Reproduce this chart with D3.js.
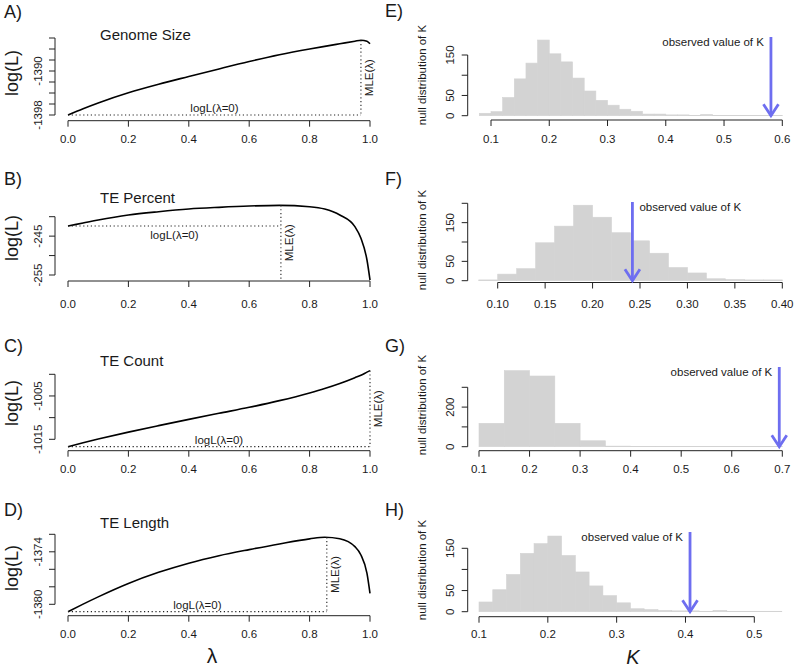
<!DOCTYPE html>
<html><head><meta charset="utf-8">
<script src="https://cdn.jsdelivr.net/npm/d3@7"></script>
<style>
html,body{margin:0;padding:0;background:#fff;}
svg{display:block;}
text{font-family:"Liberation Sans", Arial, Helvetica, sans-serif; fill:#1a1a1a;}
</style></head><body>
<svg id="chart" width="794" height="669"></svg>
<script>
// ---------------- DATA ----------------
const lambda = [0, 0.05, 0.1, 0.2, 0.3, 0.4, 0.5, 0.6, 0.7, 0.8, 0.85, 0.9, 0.95, 0.97, 0.99, 1.0];
const logL_genomeSize = [-1398.00, -1396.85, -1395.80, -1393.95, -1392.40, -1391.00, -1389.62, -1388.28, -1387.05, -1386.00, -1385.52, -1385.05, -1384.58, -1384.40, -1384.58, -1385.05];
const logL_tePercent  = [-242.39, -241.62, -240.85, -239.56, -238.71, -238.02, -237.59, -237.25, -237.08, -237.42, -238.02, -239.56, -242.57, -245.57, -251.14, -256.29];
const logL_teCount    = [-1016.70, -1015.80, -1014.95, -1013.35, -1011.85, -1010.40, -1009.00, -1007.62, -1006.08, -1004.30, -1003.28, -1002.12, -1000.78, -1000.20, -999.50, -999.15];
const logL_teLength   = [-1380.84, -1379.98, -1379.15, -1377.62, -1376.35, -1375.30, -1374.45, -1373.75, -1373.10, -1372.52, -1372.33, -1372.50, -1373.41, -1374.37, -1376.46, -1378.75];
const mleLambda = [0.97, 0.705, 1.0, 0.857];
const traitTitles = ["Genome Size", "TE Percent", "TE Count", "TE Length"];

const lambdaTicks = [0, 0.2, 0.4, 0.6, 0.8, 1.0];
const lambdaTickLabels = ["0.0", "0.2", "0.4", "0.6", "0.8", "1.0"];
const yTicksA = [-1398, -1396, -1394, -1392, -1390, -1388, -1386, -1384];
const yLabelsA = ["-1398", "", "", "", "-1390", "", "", ""];
const yTicksB = [-255, -250, -245, -240];
const yLabelsB = ["-255", "", "-245", ""];
const yTicksC = [-1015, -1010, -1005, -1000];
const yLabelsC = ["-1015", "", "-1005", ""];
const yTicksD = [-1380, -1378, -1376, -1374, -1372];
const yLabelsD = ["-1380", "", "", "-1374", ""];

// Null distributions of K (histogram counts)
const breaksE = [0.08,0.10,0.12,0.14,0.16,0.18,0.20,0.22,0.24,0.26,0.28,0.30,0.32,0.34,0.36,0.38,0.40,0.42,0.44,0.46,0.48,0.50,0.52,0.54,0.56,0.58,0.60];
const countsE = [6, 10, 45, 91, 130, 187, 153, 133, 93, 61, 38, 26, 16, 11, 4, 4, 2, 2, 1, 3, 1, 1, 1, 1, 1, 1];
const breaksF = [0.08,0.10,0.12,0.14,0.16,0.18,0.20,0.22,0.24,0.26,0.28,0.30,0.32,0.34,0.36,0.38,0.40];
const countsF = [2, 17, 31, 98, 141, 195, 164, 124, 103, 71, 34, 20, 5, 3, 2, 2];
const breaksG = [0.10,0.15,0.20,0.25,0.30,0.35,0.40,0.45,0.50,0.55,0.60,0.65,0.70];
const countsG = [118, 384, 357, 118, 30, 3, 1, 1, 1, 1, 1, 1];
const breaksH = [0.10,0.12,0.14,0.16,0.18,0.20,0.22,0.24,0.26,0.28,0.30,0.32,0.34,0.36,0.38,0.40,0.42,0.44,0.46,0.48,0.50,0.52,0.54];
const countsH = [23, 52, 88, 138, 161, 179, 133, 94, 61, 38, 21, 7, 5, 3, 2, 2, 1, 3, 1, 1, 1, 1];
const observedK = [0.5805, 0.242, 0.694, 0.4066];

const kTicksE = [0.1, 0.2, 0.3, 0.4, 0.5, 0.6];
const kLabelsE = ["0.1", "0.2", "0.3", "0.4", "0.5", "0.6"];
const kTicksF = [0.10, 0.15, 0.20, 0.25, 0.30, 0.35, 0.40];
const kLabelsF = ["0.10", "0.15", "0.20", "0.25", "0.30", "0.35", "0.40"];
const kTicksG = [0.1, 0.2, 0.3, 0.4, 0.5, 0.6, 0.7];
const kLabelsG = ["0.1", "0.2", "0.3", "0.4", "0.5", "0.6", "0.7"];
const kTicksH = [0.1, 0.2, 0.3, 0.4, 0.5];
const kLabelsH = ["0.1", "0.2", "0.3", "0.4", "0.5"];
const countTicks150 = [0, 50, 100, 150];
const countLabels150 = ["0", "50", "", "150"];
const countTicks200 = [0, 50, 100, 150, 200];
const countLabels200 = ["0", "50", "", "150", ""];
const countTicks300 = [0, 100, 200, 300];
const countLabels300 = ["0", "", "200", ""];

// ---------------- LAYOUT ----------------
const svg = d3.select("#chart");
const FS = 11.5;
const axisCol = "#222";
const arrowCol = "#6e6ef0";

const leftLayout = [
  {label:"A)", top:0,   values:logL_genomeSize, yTicks:yTicksA, yLabels:yLabelsA, yRange:[115, 38],    axisY:120.7, titleY:34, logLAbove:true},
  {label:"B)", top:165, values:logL_tePercent,  yTicks:yTicksB, yLabels:yLabelsB, yRange:[110, 51.7],  axisY:116,   titleY:32, logLAbove:false},
  {label:"C)", top:330, values:logL_teCount,    yTicks:yTicksC, yLabels:yLabelsC, yRange:[109.3, 44.3],axisY:120.7, titleY:30, logLAbove:true},
  {label:"D)", top:495, values:logL_teLength,   yTicks:yTicksD, yLabels:yLabelsD, yRange:[109.3, 39.3],axisY:120.7, titleY:27, logLAbove:true}
];
const xL = d3.scaleLinear().domain([0, 1]).range([68, 370]);
const yAxisXL = 55;

leftLayout.forEach((p, i) => {
  const g = svg.append("g").attr("transform", `translate(0,${p.top})`);
  const y = d3.scaleLinear().domain([p.yTicks[0], p.yTicks[p.yTicks.length-1]]).range(p.yRange);
  const pts = lambda.map((l, j) => [l, p.values[j]]);

  g.append("text").attr("x", 4).attr("y", [11.5, 13.5, 15.5, 14.5][i]).attr("dominant-baseline","central")
    .attr("font-size", 18).text(p.label);
  g.append("text").attr("x", 100).attr("y", p.titleY).attr("dominant-baseline","central")
    .attr("font-size", 15).text(traitTitles[i]);
  g.append("text").attr("transform", `translate(12,73) rotate(-90)`).attr("text-anchor","middle")
    .attr("dominant-baseline","central").attr("font-size", 18).text("log(L)");

  g.append("line").attr("x1", xL(lambdaTicks[0])).attr("x2", xL(lambdaTicks[lambdaTicks.length-1]))
    .attr("y1", p.axisY).attr("y2", p.axisY).attr("stroke", axisCol);
  lambdaTicks.forEach((t, k) => {
    g.append("line").attr("x1", xL(t)).attr("x2", xL(t)).attr("y1", p.axisY).attr("y2", p.axisY + 6).attr("stroke", axisCol);
    g.append("text").attr("x", xL(t)).attr("y", 139.3).attr("text-anchor","middle").attr("dominant-baseline","central")
      .attr("font-size", FS).text(lambdaTickLabels[k]);
  });
  g.append("line").attr("x1", yAxisXL).attr("x2", yAxisXL).attr("y1", y(p.yTicks[0])).attr("y2", y(p.yTicks[p.yTicks.length-1])).attr("stroke", axisCol);
  p.yTicks.forEach((t, k) => {
    g.append("line").attr("x1", yAxisXL - 6).attr("x2", yAxisXL).attr("y1", y(t)).attr("y2", y(t)).attr("stroke", axisCol);
    if (p.yLabels[k]) g.append("text").attr("transform", `translate(${yAxisXL - 17.5},${y(t)}) rotate(-90)`)
      .attr("text-anchor","middle").attr("dominant-baseline","central").attr("font-size", FS).text(p.yLabels[k]);
  });

  const line = d3.line().x(d => xL(d[0])).y(d => y(d[1])).curve(d3.curveMonotoneX);
  g.append("path").attr("d", line(pts)).attr("fill","none").attr("stroke","#000").attr("stroke-width",1.6);

  const maxV = d3.max(p.values), minV = d3.min(p.values), l0 = p.values[0];
  const mx = xL(mleLambda[i]);
  g.append("line").attr("x1", mx).attr("x2", mx).attr("y1", y(maxV)).attr("y2", y(minV))
    .attr("stroke","#222").attr("stroke-width",1.1).attr("stroke-dasharray","1.2 2.6");
  g.append("line").attr("x1", xL(0)).attr("x2", mx).attr("y1", y(l0)).attr("y2", y(l0))
    .attr("stroke","#222").attr("stroke-width",1.1).attr("stroke-dasharray","1.2 2.6");
  g.append("text").attr("x", (xL(0) + mx) / 2).attr("y", y(l0) + (p.logLAbove ? -7 : 9))
    .attr("text-anchor","middle").attr("dominant-baseline","central").attr("font-size", FS).text("logL(λ=0)");
  g.append("text").attr("transform", `translate(${mx + 8},${(y(maxV) + y(minV)) / 2}) rotate(-90)`)
    .attr("text-anchor","middle").attr("dominant-baseline","central").attr("font-size", FS).text("MLE(λ)");
});

svg.append("text").attr("x", 212).attr("y", 663).attr("text-anchor","middle")
  .attr("font-size", 21).text("λ");

const rightLayout = [
  {label:"E)", top:0,   breaks:breaksE, counts:countsE, kTicks:kTicksE, kLabels:kLabelsE, cTicks:countTicks150, cLabels:countLabels150, xRange:[491, 782.3],   yRange:[115.7, 55],   axisY:120,   textRight:true},
  {label:"F)", top:165, breaks:breaksF, counts:countsF, kTicks:kTicksF, kLabels:kLabelsF, cTicks:countTicks200, cLabels:countLabels200, xRange:[497.7, 782.3], yRange:[115.7, 38.3], axisY:117.5, textRight:false},
  {label:"G)", top:330, breaks:breaksG, counts:countsG, kTicks:kTicksG, kLabels:kLabelsG, cTicks:countTicks300, cLabels:countLabels300, xRange:[479, 782.3],   yRange:[116.7, 57.3], axisY:120.7, textRight:true},
  {label:"H)", top:495, breaks:breaksH, counts:countsH, kTicks:kTicksH, kLabels:kLabelsH, cTicks:countTicks150, cLabels:countLabels150, xRange:[479, 754.3],   yRange:[116.7, 53.3], axisY:121.7, textRight:true}
];
const yAxisXR = 467.7;

rightLayout.forEach((p, i) => {
  const g = svg.append("g").attr("transform", `translate(0,${p.top})`);
  const x = d3.scaleLinear().domain([p.kTicks[0], p.kTicks[p.kTicks.length-1]]).range(p.xRange);
  const y = d3.scaleLinear().domain([p.cTicks[0], p.cTicks[p.cTicks.length-1]]).range(p.yRange);

  g.append("text").attr("x", 385).attr("y", [10.5, 13.5, 15.5, 14.5][i]).attr("dominant-baseline","central")
    .attr("font-size", 18).text(p.label);
  g.append("text").attr("transform", `translate(421.7,75) rotate(-90)`).attr("text-anchor","middle")
    .attr("dominant-baseline","central").attr("font-size", FS).text("null distribution of K");

  g.selectAll("rect.bar").data(p.counts).join("rect").attr("class","bar")
    .attr("x", (d, j) => x(p.breaks[j]))
    .attr("width", (d, j) => x(p.breaks[j+1]) - x(p.breaks[j]))
    .attr("y", d => y(d)).attr("height", d => y(0) - y(d))
    .attr("fill", "#d3d3d3").attr("stroke", "#d3d3d3").attr("stroke-width", 0.6);

  g.append("line").attr("x1", x(p.kTicks[0])).attr("x2", x(p.kTicks[p.kTicks.length-1]))
    .attr("y1", p.axisY).attr("y2", p.axisY).attr("stroke", axisCol);
  p.kTicks.forEach((t, k) => {
    g.append("line").attr("x1", x(t)).attr("x2", x(t)).attr("y1", p.axisY).attr("y2", p.axisY + 6).attr("stroke", axisCol);
    g.append("text").attr("x", x(t)).attr("y", 139.3).attr("text-anchor","middle").attr("dominant-baseline","central")
      .attr("font-size", FS).text(p.kLabels[k]);
  });
  g.append("line").attr("x1", yAxisXR).attr("x2", yAxisXR).attr("y1", y(p.cTicks[0])).attr("y2", y(p.cTicks[p.cTicks.length-1])).attr("stroke", axisCol);
  p.cTicks.forEach((t, k) => {
    g.append("line").attr("x1", yAxisXR - 6).attr("x2", yAxisXR).attr("y1", y(t)).attr("y2", y(t)).attr("stroke", axisCol);
    if (p.cLabels[k]) g.append("text").attr("transform", `translate(${yAxisXR - 17.5},${y(t)}) rotate(-90)`)
      .attr("text-anchor","middle").attr("dominant-baseline","central").attr("font-size", FS).text(p.cLabels[k]);
  });

  const ax = x(observedK[i]), ay0 = 37, ay1 = y(0);
  g.append("line").attr("x1", ax).attr("x2", ax).attr("y1", ay0).attr("y2", ay1)
    .attr("stroke", arrowCol).attr("stroke-width", 2.8);
  g.append("path").attr("d", `M${ax-7.5},${ay1-11.5}L${ax},${ay1}L${ax+7.5},${ay1-11.5}`)
    .attr("fill","none").attr("stroke", arrowCol).attr("stroke-width", 2.8).attr("stroke-linejoin","miter");
  g.append("text").attr("x", p.textRight ? ax - 7 : ax + 7).attr("y", 41.7)
    .attr("text-anchor", p.textRight ? "end" : "start").attr("dominant-baseline","central")
    .attr("font-size", FS).text("observed value of K");
});

svg.append("text").attr("x", 633).attr("y", 664).attr("text-anchor","middle")
  .attr("font-size", 20).attr("font-style","italic").text("K");
</script>
</body></html>
